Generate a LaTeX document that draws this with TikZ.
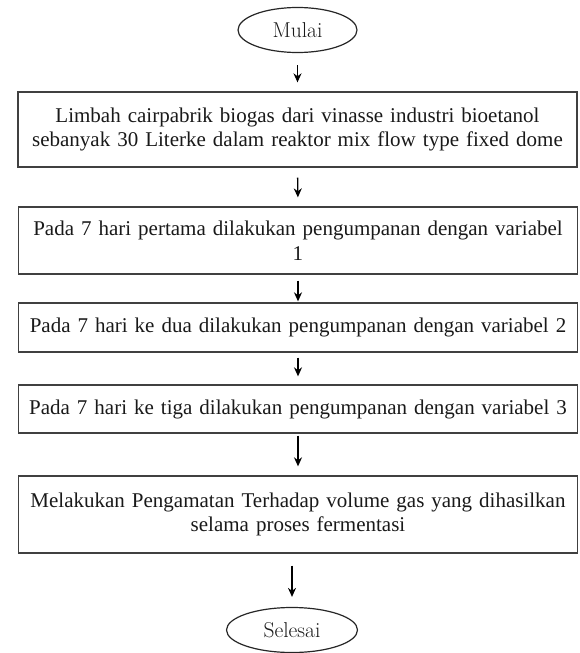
\documentclass[tikz,border=0pt]{standalone}
\usepackage{fontspec}
\newfontfamily\timesf{Liberation Serif}
\usetikzlibrary{shapes.geometric,arrows.meta}
\begin{document}
\begin{tikzpicture}[x=1pt,y=-1pt,
  box/.style={draw=black!75, line width=1.3pt, minimum width=559pt, minimum height=#1,
    inner sep=0pt, text width=550pt, align=center, text=black!90,
    font=\timesf\fontsize{21}{24.5}\selectfont},
  term/.style={ellipse, draw=black!85, line width=1.2pt, minimum width=#1,
    minimum height=45pt, inner sep=0pt, text=black!90, font=\fontsize{21.5}{24}\selectfont},
  arr/.style={-{Stealth[length=9pt,width=8pt]}, line width=1.3pt}]
\useasboundingbox (0,0) rectangle (579,653);

\node[term=119pt] (start) at (297.5,30) {Mulai};
\node[box=75pt] (b1) at (297.5,129.5) {Limbah cairpabrik biogas dari vinasse industri bioetanol\\sebanyak 30 Literke dalam reaktor mix flow type fixed dome};
\node[box=67pt] (b2) at (298,240.5) {Pada 7 hari pertama dilakukan pengumpanan dengan variabel\\1};
\node[box=49pt] (b3) at (298,327.5) {Pada 7 hari ke dua dilakukan pengumpanan dengan variabel 2};
\node[box=48pt] (b4) at (298,409) {Pada 7 hari ke tiga dilakukan pengumpanan dengan variabel 3};
\node[box=77pt] (b5) at (298,514.5) {Melakukan Pengamatan Terhadap volume gas yang dihasilkan\\selama proses fermentasi};
\node[term=131pt] (end) at (292,630) {Selesai};

\draw[arr, shorten <=12pt, shorten >=9pt] (start.south) -- (start.south |- b1.north);
\draw[arr, shorten <=10pt, shorten >=9pt] (b1.south) -- (b2.north);
\draw[arr, shorten <=6pt, shorten >=1pt] (b2.south) -- (b3.north);
\draw[arr, shorten <=5pt, shorten >=8pt] (b3.south) -- (b4.north);
\draw[arr, shorten <=2pt, shorten >=9pt] (b4.south) -- (b5.north);
\draw[arr, shorten <=12pt, shorten >=10pt] (b5.south -| end.north) -- (end.north);
\end{tikzpicture}
\end{document}
